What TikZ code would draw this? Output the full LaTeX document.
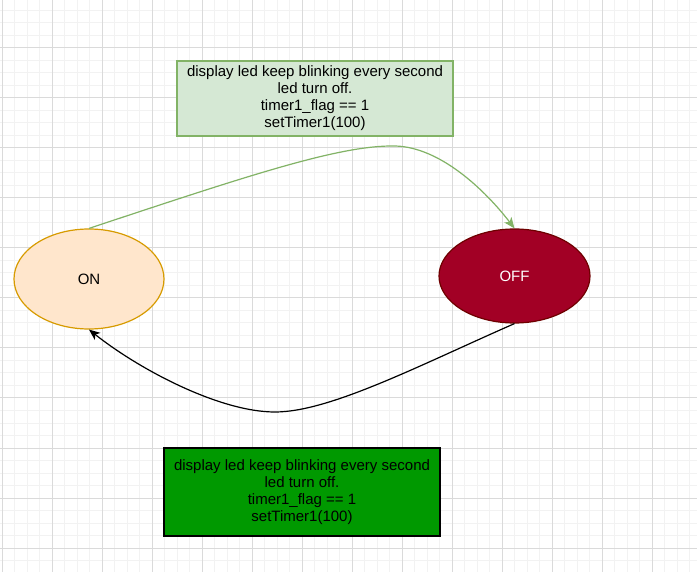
\documentclass[tikz,border=0pt]{standalone}
\usepackage{fontspec}
\setmainfont{Liberation Sans}
\usetikzlibrary{shapes,arrows.meta}
\definecolor{onfill}{HTML}{FFE6CC}
\definecolor{ondraw}{HTML}{D79B00}
\definecolor{offfill}{HTML}{A20025}
\definecolor{offdraw}{HTML}{6F0000}
\definecolor{notefill}{HTML}{D5E8D4}
\definecolor{notedraw}{HTML}{82B366}
\definecolor{boxfill}{HTML}{009900}
\definecolor{gridminor}{HTML}{F2F2F2}
\definecolor{gridmajor}{HTML}{DADADA}

\begin{document}
\begin{tikzpicture}[x=1pt, y=-1pt,
    state/.style={ellipse, draw, line width=1.2pt, inner sep=0pt,
      font=\fontsize{15}{17}\selectfont},
    notebox/.style={rectangle, draw, line width=1.2pt, align=center,
      minimum width=276pt, font=\fontsize{15}{17}\selectfont},
    tip/.style={-{Stealth[length=11pt, width=9pt, inset=3pt]}}]
      \useasboundingbox (0, 0) rectangle (697, 572);
      \clip (0, 0) rectangle (697, 572);
      \fill[white] (0, 0) rectangle (697, 572);
      \foreach \i in {0,...,55}
        \draw[gridminor, line width=1pt] ({2+12.5*\i}, 0) -- ({2+12.5*\i}, 572);
      \foreach \i in {0,...,46}
        \draw[gridminor, line width=1pt] (0, {-2+12.5*\i}) -- (697, {-2+12.5*\i});
      \foreach \i in {0,...,13}
        \draw[gridmajor, line width=1pt] ({2+50*\i}, 0) -- ({2+50*\i}, 572);
      \foreach \i in {0,...,11}
        \draw[gridmajor, line width=1pt] (0, {-2+50*\i}) -- (697, {-2+50*\i});
      \node (on) [state, draw=ondraw, fill=onfill, minimum width=150pt,
                  minimum height=100pt] at (89, 279) {ON};
      \node (off) [state, draw=offdraw, fill=offfill, text=white,
                   minimum width=151pt, minimum height=94pt] at (514.5, 276) {OFF};
      \node (toprule) [notebox, draw=notedraw, fill=notefill, minimum height=75pt]
            at (315, 98.5) {display led keep blinking every second\\led turn off.\\
            timer1\_flag == 1\\setTimer1(100)};
      \node (botrule) [notebox, draw=black, fill=boxfill, minimum height=88pt]
            at (302, 492) {display led keep blinking every second\\led turn off.\\
            timer1\_flag == 1\\setTimer1(100)};
      \coordinate (crest) at (395, 146);
      \coordinate (dip) at (275, 412);
      \draw[tip, notedraw, line width=1.2pt] (on.north)
            .. controls (250, 175) and (340, 145) .. (crest)
            .. controls (440, 147) and (485, 190) .. (off.north);
      \draw[tip, black, line width=1.2pt] (off.south)
            .. controls (420, 365) and (330, 412) .. (dip)
            .. controls (220, 412) and (140, 370) .. (on.south);
\end{tikzpicture}
\end{document}
